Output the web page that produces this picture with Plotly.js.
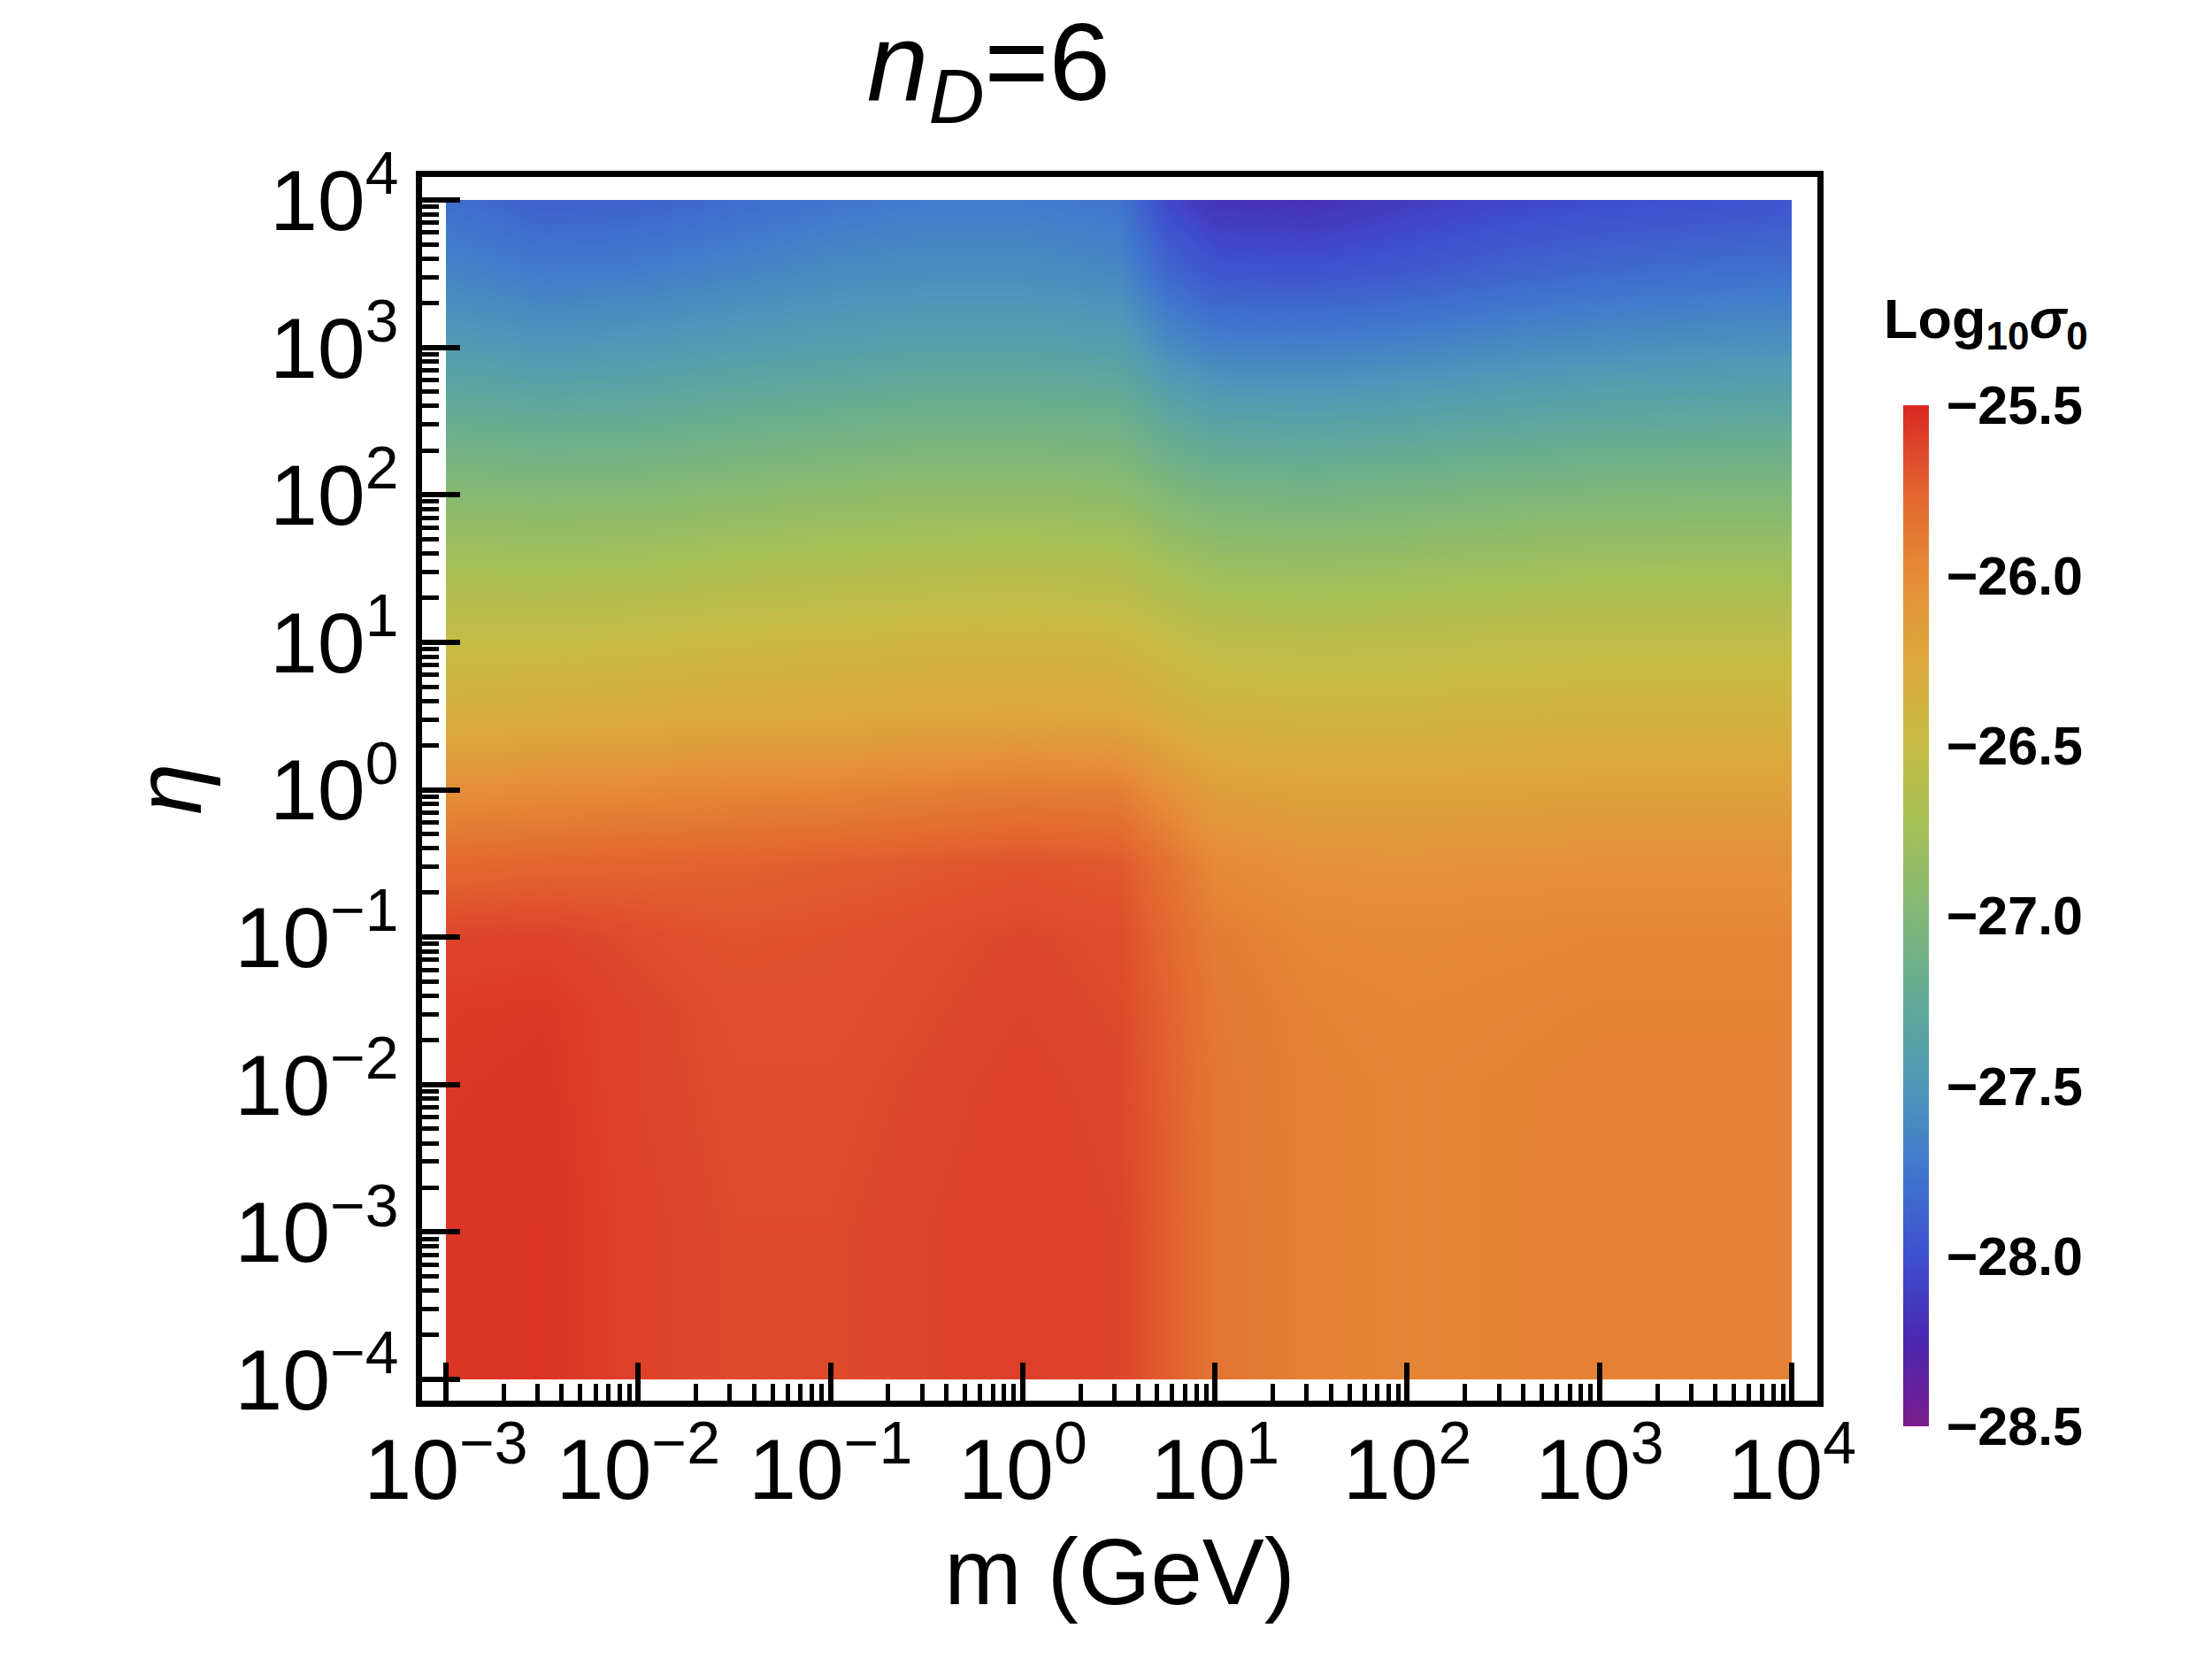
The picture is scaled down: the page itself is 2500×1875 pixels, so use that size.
<!DOCTYPE html>
<html>
<head>
<meta charset="utf-8">
<script src="https://cdn.plot.ly/plotly-3.0.1.min.js"></script>
<style>html,body{margin:0;padding:0;background:#fff}</style>
</head>
<body>
<div id="chart" style="width:2500px;height:1875px"></div>
<script>
// Sample grid: log10 of mass (GeV) along x, log10 of eta along y
const logMass = [-3, -2.5, -2, -1.5, -1, -0.5, 0, 0.5, 0.75, 1, 1.5, 2, 2.5, 3, 3.5, 4];
const logEta = [-4, -3, -2, -1.5, -1, -0.5, 0, 0.5, 1, 1.5, 2, 2.5, 3, 3.5, 4];

// log10(sigma_0), one row per eta sample (bottom to top)
const log10Sigma0 = [
  [-25.56,-25.55,-25.61,-25.64,-25.64,-25.62,-25.60,-25.62,-25.72,-25.85,-25.93,-25.95,-25.94,-25.92,-25.92,-25.93],
  [-25.56,-25.55,-25.61,-25.64,-25.64,-25.62,-25.60,-25.62,-25.72,-25.85,-25.93,-25.95,-25.94,-25.92,-25.92,-25.93],
  [-25.57,-25.56,-25.62,-25.65,-25.65,-25.63,-25.61,-25.63,-25.73,-25.86,-25.93,-25.95,-25.94,-25.93,-25.93,-25.93],
  [-25.58,-25.57,-25.62,-25.66,-25.66,-25.64,-25.62,-25.64,-25.74,-25.87,-25.94,-25.96,-25.95,-25.94,-25.94,-25.94],
  [-25.62,-25.61,-25.65,-25.68,-25.67,-25.65,-25.63,-25.65,-25.77,-25.90,-25.97,-25.98,-25.97,-25.96,-25.96,-25.96],
  [-25.78,-25.76,-25.75,-25.74,-25.72,-25.70,-25.68,-25.70,-25.83,-25.99,-26.05,-26.06,-26.05,-26.04,-26.04,-26.04],
  [-26.02,-26.00,-25.98,-25.96,-25.95,-25.92,-25.89,-25.91,-26.04,-26.16,-26.20,-26.20,-26.19,-26.18,-26.18,-26.18],
  [-26.32,-26.30,-26.28,-26.26,-26.25,-26.23,-26.22,-26.24,-26.32,-26.38,-26.40,-26.40,-26.38,-26.37,-26.37,-26.37],
  [-26.50,-26.50,-26.48,-26.45,-26.43,-26.41,-26.40,-26.42,-26.50,-26.56,-26.58,-26.57,-26.55,-26.54,-26.54,-26.54],
  [-26.72,-26.73,-26.72,-26.68,-26.66,-26.64,-26.63,-26.65,-26.74,-26.80,-26.82,-26.80,-26.78,-26.76,-26.76,-26.76],
  [-26.95,-26.97,-26.96,-26.93,-26.90,-26.88,-26.88,-26.90,-27.00,-27.06,-27.08,-27.06,-27.03,-27.01,-27.00,-27.00],
  [-27.20,-27.23,-27.22,-27.18,-27.15,-27.12,-27.12,-27.14,-27.28,-27.36,-27.38,-27.35,-27.32,-27.29,-27.28,-27.27],
  [-27.45,-27.50,-27.48,-27.44,-27.41,-27.38,-27.38,-27.41,-27.58,-27.67,-27.68,-27.65,-27.60,-27.57,-27.55,-27.54],
  [-27.65,-27.72,-27.70,-27.65,-27.60,-27.58,-27.58,-27.62,-27.84,-27.96,-27.97,-27.93,-27.87,-27.83,-27.80,-27.78],
  [-27.80,-27.90,-27.88,-27.82,-27.76,-27.72,-27.72,-27.76,-28.05,-28.18,-28.20,-28.12,-28.06,-28.02,-28.00,-27.97]
];

// Axis decades and colorbar ticks
const massDecades = [-3, -2, -1, 0, 1, 2, 3, 4];
const etaDecades = [-4, -3, -2, -1, 0, 1, 2, 3, 4];
const colorbarTicks = [-28.5, -28.0, -27.5, -27.0, -26.5, -26.0, -25.5];

// Rainbow gradient, purple (low) to red (high)
const rainbow = [
  [0.000, '#7a1c8c'],
  [0.083, '#4a27b0'],
  [0.167, '#3e50ce'],
  [0.250, '#4076ce'],
  [0.333, '#4e98b8'],
  [0.417, '#63aa97'],
  [0.500, '#80b878'],
  [0.583, '#a3bf58'],
  [0.667, '#c6bc45'],
  [0.750, '#dca83d'],
  [0.833, '#e68d37'],
  [0.917, '#e26430'],
  [1.000, '#da2723']
];

const FONT = 'Liberation Sans, Arial, Helvetica, sans-serif';
const minus = s => String(s).replace('-', '\u2212');
const powerLabel = e => '10<sup>' + minus(e) + '</sup>';

// minor ticks at 2..9 within each decade
function minorTicks(decades) {
  const out = [];
  for (let i = 0; i < decades.length - 1; i++) {
    for (let k = 2; k <= 9; k++) out.push(k * Math.pow(10, decades[i]));
  }
  return out;
}

const trace = {
  type: 'contour',
  x: logMass.map(v => Math.pow(10, v)),
  y: logEta.map(v => Math.pow(10, v)),
  z: log10Sigma0,
  zauto: false,
  zmin: -28.5,
  zmax: -25.5,
  colorscale: rainbow,
  contours: {coloring: 'heatmap', showlines: false},
  line: {width: 0},
  hoverinfo: 'skip',
  colorbar: {
    x: 1.0615, xanchor: 'left', xpad: 0,
    y: 0.3962, yanchor: 'middle', ypad: 0,
    len: 1154, lenmode: 'pixels',
    thickness: 29,
    outlinewidth: 0,
    tickmode: 'array',
    tickvals: colorbarTicks,
    ticktext: colorbarTicks.map(v => minus(v.toFixed(1))),
    ticks: 'outside', ticklen: 8, tickwidth: 1, tickcolor: 'rgba(0,0,0,0)',
    tickfont: {family: FONT, size: 61, color: '#000', weight: 'bold'}
  }
};

const axisCommon = {
  type: 'log',
  showgrid: false,
  zeroline: false,
  showline: true,
  linewidth: 7,
  linecolor: '#000',
  mirror: true,
  ticks: 'inside',
  ticklen: 43,
  tickwidth: 6,
  tickcolor: '#000',
  tickmode: 'array',
  layer: 'above traces',
  tickfont: {family: FONT, size: 97, color: '#000'}
};

const layout = {
  width: 2500,
  height: 1875,
  paper_bgcolor: '#fff',
  plot_bgcolor: '#fff',
  margin: {l: 477, r: 446, t: 200, b: 292},
  font: {family: FONT, color: '#000'},
  title: {
    text: '<i>n</i><sub><i>D</i></sub>=6',
    font: {family: FONT, size: 125, color: '#000'},
    xref: 'container', x: 0.447, xanchor: 'center',
    yref: 'container', y: 0.963, yanchor: 'middle'
  },
  xaxis: Object.assign({}, axisCommon, {
    range: [-3.124, 4.133],
    tickvals: massDecades.map(e => Math.pow(10, e)),
    ticktext: massDecades.map(powerLabel),
    ticklabelstandoff: -12,
    minor: {tickmode: 'array', tickvals: minorTicks(massDecades), ticks: 'inside',
            ticklen: 19, tickwidth: 5, tickcolor: '#000', showgrid: false},
    title: {text: 'm (GeV)', font: {family: FONT, size: 105, color: '#000'}, standoff: 28}
  }),
  yaxis: Object.assign({}, axisCommon, {
    range: [-4.144, 4.156],
    tickvals: etaDecades.map(e => Math.pow(10, e)),
    ticktext: etaDecades.map(powerLabel),
    minor: {tickmode: 'array', tickvals: minorTicks(etaDecades), ticks: 'inside',
            ticklen: 19, tickwidth: 5, tickcolor: '#000', showgrid: false},
    title: {text: '<i>η</i>', font: {family: FONT, size: 105, color: '#000'}, standoff: 5}
  }),
  annotations: [{
    text: '<b>Log<sub>10</sub><i>σ</i><sub>0</sub></b>',
    xref: 'paper', yref: 'paper',
    x: 1.046, xanchor: 'left',
    y: 0.8807, yanchor: 'middle',
    showarrow: false,
    font: {family: FONT, size: 63, color: '#000', weight: 'bold'}
  }]
};

Plotly.newPlot('chart', [trace], layout, {displayModeBar: false, staticPlot: true});
</script>
</body>
</html>
